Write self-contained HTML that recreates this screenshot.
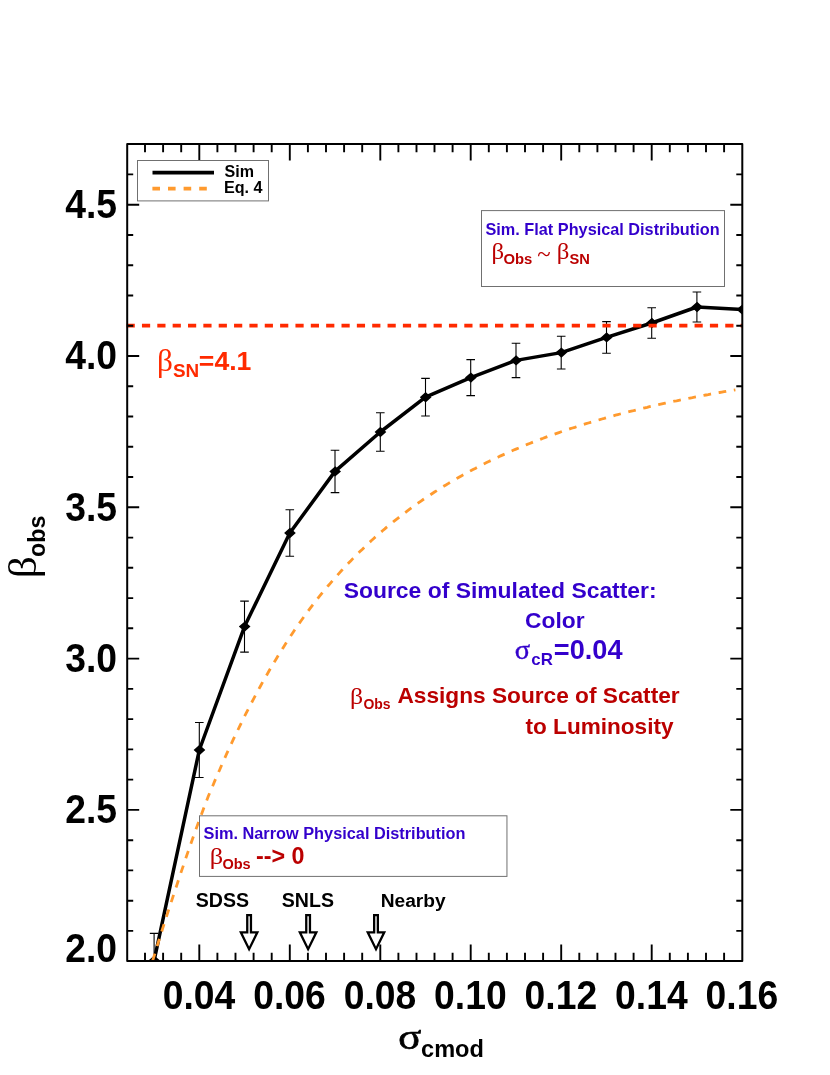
<!DOCTYPE html>
<html><head><meta charset="utf-8"><title>beta_obs vs sigma_cmod</title>
<style>html,body{margin:0;padding:0;background:#fff}svg{display:block;will-change:transform}text{font-family:"Liberation Sans",sans-serif;font-weight:bold}.g{font-family:"Liberation Serif",serif;font-weight:normal}</style></head><body>
<svg width="830" height="1075" viewBox="0 0 830 1075">
<rect x="0" y="0" width="830" height="1075" fill="#fff"/>
<defs><clipPath id="cp"><rect x="127.2" y="144.1" width="615.1" height="816.9"/></clipPath></defs>
<g clip-path="url(#cp)">
<polyline points="154.1,960.6 199.3,750.0 244.5,626.6 289.8,533.0 335.0,471.4 380.3,432.0 425.5,397.2 470.7,377.6 516.0,360.4 561.2,352.6 606.5,337.4 651.7,323.0 696.9,307.0 742.2,309.6" fill="none" stroke="#000" stroke-width="3.5" stroke-linejoin="round"/>
<path d="M154.1 933.4V987.8M149.8 933.4H158.4M149.8 987.8H158.4M199.3 722.5V777.5M195.0 722.5H203.6M195.0 777.5H203.6M244.5 601.1V652.1M240.2 601.1H248.8M240.2 652.1H248.8M289.8 509.8V556.2M285.5 509.8H294.1M285.5 556.2H294.1M335.0 450.2V492.6M330.7 450.2H339.3M330.7 492.6H339.3M380.3 412.7V451.3M376.0 412.7H384.6M376.0 451.3H384.6M425.5 378.4V416.0M421.2 378.4H429.8M421.2 416.0H429.8M470.7 359.6V395.6M466.4 359.6H475.0M466.4 395.6H475.0M516.0 343.2V377.6M511.7 343.2H520.3M511.7 377.6H520.3M561.2 336.2V369.0M556.9 336.2H565.5M556.9 369.0H565.5M606.5 321.6V353.2M602.2 321.6H610.8M602.2 353.2H610.8M651.7 307.7V338.3M647.4 307.7H656.0M647.4 338.3H656.0M696.9 292.0V322.0M692.6 292.0H701.2M692.6 322.0H701.2" stroke="#000" stroke-width="1.1" fill="none"/>
<path d="M148.4 960.6L154.2 955.4L160.1 960.6L154.2 965.8ZM193.6 750.0L199.5 744.8L205.3 750.0L199.5 755.2ZM238.8 626.6L244.7 621.4L250.5 626.6L244.7 631.8ZM284.1 533.0L289.9 527.8L295.8 533.0L289.9 538.2ZM329.3 471.4L335.2 466.2L341.0 471.4L335.2 476.6ZM374.6 432.0L380.4 426.8L386.3 432.0L380.4 437.2ZM419.8 397.2L425.6 392.0L431.5 397.2L425.6 402.4ZM465.0 377.6L470.9 372.4L476.7 377.6L470.9 382.8ZM510.3 360.4L516.1 355.2L522.0 360.4L516.1 365.6ZM555.5 352.6L561.4 347.4L567.2 352.6L561.4 357.8ZM600.8 337.4L606.6 332.2L612.5 337.4L606.6 342.6ZM646.0 323.0L651.9 317.8L657.7 323.0L651.9 328.2ZM691.2 307.0L697.1 301.8L702.9 307.0L697.1 312.2ZM736.5 309.6L742.3 304.4L748.2 309.6L742.3 314.8Z" fill="#000"/>
<polyline points="147.3,978.3 149.5,970.8 151.8,963.4 154.1,956.1 156.3,948.8 158.6,941.5 160.8,934.3 163.1,927.1 165.4,920.0 167.6,913.0 169.9,906.0 172.2,899.1 174.4,892.2 176.7,885.5 178.9,878.7 181.2,871.9 183.5,865.2 185.7,858.5 188.0,851.9 190.3,845.4 192.5,839.0 194.8,832.6 197.0,826.4 199.3,820.2 201.6,814.0 203.8,808.0 206.1,802.0 208.3,796.3 210.6,790.9 212.9,785.5 215.1,780.1 217.4,774.9 219.7,769.7 221.9,764.5 224.2,759.4 226.4,754.4 228.7,749.4 231.0,744.5 233.2,739.7 235.5,734.9 237.8,730.2 240.0,725.6 242.3,721.0 244.5,716.4 246.8,711.9 249.1,707.5 251.3,703.2 253.6,698.9 255.9,694.6 258.1,690.4 260.4,686.3 262.6,682.2 264.9,678.2 267.2,674.2 269.4,670.3 271.7,666.4 273.9,662.6 276.2,658.9 278.5,655.1 280.7,651.5 283.0,647.9 285.3,644.3 287.5,640.8 289.8,637.3 292.0,633.9 294.3,630.5 296.6,627.2 298.8,623.9 301.1,620.7 303.4,617.5 305.6,614.4 307.9,611.3 310.1,608.3 312.4,605.3 314.7,602.4 316.9,599.5 319.2,596.7 321.4,593.9 323.7,591.1 326.0,588.4 328.2,585.7 330.5,583.1 332.8,580.4 335.0,577.9 337.3,575.3 339.5,572.8 341.8,570.3 344.1,567.9 346.3,565.4 348.6,563.0 350.9,560.7 353.1,558.4 355.4,556.1 357.6,553.8 359.9,551.6 362.2,549.4 364.4,547.2 366.7,545.0 369.0,542.9 371.2,540.8 373.5,538.7 375.7,536.7 378.0,534.7 380.3,532.7 382.5,530.8 384.8,528.9 387.0,526.9 389.3,525.1 391.6,523.2 393.8,521.4 396.1,519.6 398.4,517.8 400.6,516.0 402.9,514.3 405.1,512.6 407.4,510.9 409.7,509.2 411.9,507.5 414.2,505.9 416.5,504.3 418.7,502.7 421.0,501.1 423.2,499.5 425.5,498.0 427.8,496.5 430.0,495.0 432.3,493.5 434.5,492.0 436.8,490.6 439.1,489.1 441.3,487.7 443.6,486.3 445.9,485.0 448.1,483.6 450.4,482.2 452.6,480.9 454.9,479.6 457.2,478.3 459.4,477.0 461.7,475.7 464.0,474.5 466.2,473.2 468.5,472.0 470.7,470.8 473.0,469.6 475.3,468.4 477.5,467.2 479.8,466.0 482.0,464.9 484.3,463.7 486.6,462.6 488.8,461.5 491.1,460.4 493.4,459.3 495.6,458.2 497.9,457.2 500.1,456.1 502.4,455.1 504.7,454.1 506.9,453.1 509.2,452.1 511.5,451.1 513.7,450.1 516.0,449.1 518.2,448.2 520.5,447.2 522.8,446.3 525.0,445.3 527.3,444.4 529.6,443.5 531.8,442.6 534.1,441.7 536.3,440.9 538.6,440.0 540.9,439.1 543.1,438.3 545.4,437.4 547.6,436.6 549.9,435.8 552.2,435.0 554.4,434.2 556.7,433.4 559.0,432.6 561.2,431.8 563.5,431.0 565.7,430.2 568.0,429.5 570.3,428.7 572.5,428.0 574.8,427.3 577.1,426.5 579.3,425.8 581.6,425.1 583.8,424.4 586.1,423.7 588.4,423.0 590.6,422.3 592.9,421.7 595.1,421.0 597.4,420.3 599.7,419.7 601.9,419.0 604.2,418.4 606.5,417.7 608.7,417.1 611.0,416.5 613.2,415.9 615.5,415.2 617.8,414.6 620.0,414.0 622.3,413.4 624.6,412.9 626.8,412.3 629.1,411.7 631.3,411.1 633.6,410.6 635.9,410.0 638.1,409.4 640.4,408.9 642.7,408.3 644.9,407.8 647.2,407.3 649.4,406.7 651.7,406.2 654.0,405.7 656.2,405.2 658.5,404.7 660.7,404.2 663.0,403.7 665.3,403.2 667.5,402.7 669.8,402.2 672.1,401.7 674.3,401.2 676.6,400.8 678.8,400.3 681.1,399.8 683.4,399.4 685.6,398.9 687.9,398.5 690.2,398.0 692.4,397.6 694.7,397.1 696.9,396.7 699.2,396.2 701.5,395.8 703.7,395.4 706.0,395.0 708.2,394.6 710.5,394.1 712.8,393.7 715.0,393.3 717.3,392.9 719.6,392.5 721.8,392.1 724.1,391.7 726.3,391.3 728.6,391.0 730.9,390.6 733.1,390.2 735.4,389.8" fill="none" stroke="#ff9a2e" stroke-width="2.8" stroke-dasharray="7.7 7.7" stroke-dashoffset="12.6"/>
</g>
<line x1="126.6" y1="325.69" x2="742.3" y2="325.69" stroke="#ff2a00" stroke-width="3.7" stroke-dasharray="8.2 7.15"/>
<path d="M145.0 961.0V952.8M145.0 144.1V152.3M163.1 961.0V952.8M163.1 144.1V152.3M181.2 961.0V952.8M181.2 144.1V152.3M199.3 961.0V944.6M199.3 144.1V160.5M217.4 961.0V952.8M217.4 144.1V152.3M235.5 961.0V952.8M235.5 144.1V152.3M253.6 961.0V952.8M253.6 144.1V152.3M271.7 961.0V952.8M271.7 144.1V152.3M289.8 961.0V944.6M289.8 144.1V160.5M307.9 961.0V952.8M307.9 144.1V152.3M326.0 961.0V952.8M326.0 144.1V152.3M344.1 961.0V952.8M344.1 144.1V152.3M362.2 961.0V952.8M362.2 144.1V152.3M380.3 961.0V944.6M380.3 144.1V160.5M398.4 961.0V952.8M398.4 144.1V152.3M416.5 961.0V952.8M416.5 144.1V152.3M434.5 961.0V952.8M434.5 144.1V152.3M452.6 961.0V952.8M452.6 144.1V152.3M470.7 961.0V944.6M470.7 144.1V160.5M488.8 961.0V952.8M488.8 144.1V152.3M506.9 961.0V952.8M506.9 144.1V152.3M525.0 961.0V952.8M525.0 144.1V152.3M543.1 961.0V952.8M543.1 144.1V152.3M561.2 961.0V944.6M561.2 144.1V160.5M579.3 961.0V952.8M579.3 144.1V152.3M597.4 961.0V952.8M597.4 144.1V152.3M615.5 961.0V952.8M615.5 144.1V152.3M633.6 961.0V952.8M633.6 144.1V152.3M651.7 961.0V944.6M651.7 144.1V160.5M669.8 961.0V952.8M669.8 144.1V152.3M687.9 961.0V952.8M687.9 144.1V152.3M706.0 961.0V952.8M706.0 144.1V152.3M724.1 961.0V952.8M724.1 144.1V152.3M127.2 930.9H133.2M742.3 930.9H736.3M127.2 900.7H133.2M742.3 900.7H736.3M127.2 870.4H133.2M742.3 870.4H736.3M127.2 840.2H133.2M742.3 840.2H736.3M127.2 809.9H139.2M742.3 809.9H730.3M127.2 779.6H133.2M742.3 779.6H736.3M127.2 749.4H133.2M742.3 749.4H736.3M127.2 719.1H133.2M742.3 719.1H736.3M127.2 688.9H133.2M742.3 688.9H736.3M127.2 658.6H139.2M742.3 658.6H730.3M127.2 628.3H133.2M742.3 628.3H736.3M127.2 598.1H133.2M742.3 598.1H736.3M127.2 567.8H133.2M742.3 567.8H736.3M127.2 537.6H133.2M742.3 537.6H736.3M127.2 507.3H139.2M742.3 507.3H730.3M127.2 477.0H133.2M742.3 477.0H736.3M127.2 446.8H133.2M742.3 446.8H736.3M127.2 416.5H133.2M742.3 416.5H736.3M127.2 386.3H133.2M742.3 386.3H736.3M127.2 356.0H139.2M742.3 356.0H730.3M127.2 325.7H133.2M742.3 325.7H736.3M127.2 295.5H133.2M742.3 295.5H736.3M127.2 265.2H133.2M742.3 265.2H736.3M127.2 235.0H133.2M742.3 235.0H736.3M127.2 204.7H139.2M742.3 204.7H730.3M127.2 174.4H133.2M742.3 174.4H736.3" stroke="#000" stroke-width="1.9" fill="none"/>
<rect x="127.2" y="144.1" width="615.1" height="816.9" fill="none" stroke="#000" stroke-width="2" stroke-linejoin="round"/>
<text transform="translate(117.0,961.7) scale(1,1.075)" font-size="37.3" text-anchor="end">2.0</text>
<text transform="translate(117.0,823.2) scale(1,1.075)" font-size="37.3" text-anchor="end">2.5</text>
<text transform="translate(117.0,671.9) scale(1,1.075)" font-size="37.3" text-anchor="end">3.0</text>
<text transform="translate(117.0,520.6) scale(1,1.075)" font-size="37.3" text-anchor="end">3.5</text>
<text transform="translate(117.0,369.3) scale(1,1.075)" font-size="37.3" text-anchor="end">4.0</text>
<text transform="translate(117.0,218.0) scale(1,1.075)" font-size="37.3" text-anchor="end">4.5</text>
<text transform="translate(199.0,1008.5) scale(1,1.075)" font-size="37.3" text-anchor="middle">0.04</text>
<text transform="translate(289.5,1008.5) scale(1,1.075)" font-size="37.3" text-anchor="middle">0.06</text>
<text transform="translate(380.0,1008.5) scale(1,1.075)" font-size="37.3" text-anchor="middle">0.08</text>
<text transform="translate(470.4,1008.5) scale(1,1.075)" font-size="37.3" text-anchor="middle">0.10</text>
<text transform="translate(560.9,1008.5) scale(1,1.075)" font-size="37.3" text-anchor="middle">0.12</text>
<text transform="translate(651.4,1008.5) scale(1,1.075)" font-size="37.3" text-anchor="middle">0.14</text>
<text transform="translate(741.9,1008.5) scale(1,1.075)" font-size="37.3" text-anchor="middle">0.16</text>
<text class="g" transform="translate(398.30,1048.80) scale(1.182,1)" font-size="36.10" stroke="#000" stroke-width="0.70">σ</text>
<text x="421.06" y="1057.00" font-size="23.59">cmod</text>
<g transform="translate(0,0) rotate(-90)">
<text class="g" transform="translate(-578.33,35.62) scale(1.102,1)" font-size="39.46">β</text>
<text x="-556.93" y="45.00" font-size="23.27">obs</text>
</g>
<rect x="137.5" y="160.5" width="131" height="40.4" fill="#fff" stroke="#707070" stroke-width="1"/>
<line x1="152.5" y1="172.7" x2="214" y2="172.7" stroke="#000" stroke-width="3.8"/>
<line x1="152.4" y1="188.6" x2="214" y2="188.6" stroke="#ff9a2e" stroke-width="3.6" stroke-dasharray="7.6 8"/>
<text x="224.52" y="176.50" font-size="16.07">Sim</text>
<text x="223.91" y="193.10" font-size="16.16">Eq. 4</text>
<rect x="481.5" y="210.6" width="243" height="75.9" fill="#fff" stroke="#707070" stroke-width="1"/>
<text x="485.51" y="235.00" font-size="16.27" fill="#3300cc">Sim. Flat Physical Distribution</text>
<text class="g" transform="translate(491.39,258.90) scale(1.036,1)" font-size="23.98" fill="#bb0000">β</text>
<text x="503.41" y="263.60" font-size="14.82" fill="#bb0000">Obs</text>
<text class="g" transform="translate(537.32,261.70) scale(1.011,1)" font-size="24.48" fill="#bb0000">~</text>
<text class="g" transform="translate(556.79,258.90) scale(1.036,1)" font-size="23.98" fill="#bb0000">β</text>
<text x="569.56" y="263.60" font-size="14.70" fill="#bb0000">SN</text>
<text class="g" transform="translate(156.97,371.38) scale(1.004,1)" font-size="31.17" fill="#ff2a00">β</text>
<text x="173.03" y="377.00" font-size="18.88" fill="#ff2a00">SN</text>
<text x="198.87" y="370.00" font-size="26.60" fill="#ff2a00">=4.1</text>
<text x="343.71" y="598.00" font-size="22.90" fill="#3300cc">Source of Simulated Scatter:</text>
<text x="525.09" y="627.80" font-size="22.80" fill="#3300cc">Color</text>
<text class="g" transform="translate(514.83,658.60) scale(1.067,1)" font-size="26.73" fill="#3300cc" stroke="#3300cc" stroke-width="0.40">σ</text>
<text x="531.33" y="664.50" font-size="16.87" fill="#3300cc">cR</text>
<text x="553.85" y="658.70" font-size="27.15" fill="#3300cc">=0.04</text>
<text class="g" transform="translate(349.92,703.68) scale(1.162,1)" font-size="22.23" fill="#bb0000">β</text>
<text x="363.44" y="709.00" font-size="13.96" fill="#bb0000">Obs</text>
<text x="397.43" y="703.40" font-size="22.68" fill="#bb0000">Assigns Source of Scatter</text>
<text x="525.52" y="733.90" font-size="22.59" fill="#bb0000">to Luminosity</text>
<rect x="199.5" y="815.8" width="307.45" height="60.6" fill="#fff" stroke="#707070" stroke-width="1"/>
<text x="203.51" y="839.00" font-size="16.32" fill="#3300cc">Sim. Narrow Physical Distribution</text>
<text class="g" transform="translate(209.69,864.30) scale(1.098,1)" font-size="23.98" fill="#bb0000">β</text>
<text x="222.42" y="868.60" font-size="14.50" fill="#bb0000">Obs</text>
<text x="256.07" y="864.00" font-size="23.27" fill="#bb0000">--&gt; 0</text>
<text x="195.81" y="907.00" font-size="19.60">SDSS</text>
<text x="281.81" y="907.00" font-size="19.56">SNLS</text>
<text x="380.71" y="907.00" font-size="19.17">Nearby</text>
<path d="M240.85 932.3H247.25V915.2H250.95V932.3H257.35L249.10 949.2Z" fill="#fff" stroke="#000" stroke-width="2.3" stroke-linejoin="miter"/>
<path d="M299.85 932.3H306.25V915.2H309.95V932.3H316.35L308.10 949.2Z" fill="#fff" stroke="#000" stroke-width="2.3" stroke-linejoin="miter"/>
<path d="M367.75 932.3H374.15V915.2H377.85V932.3H384.25L376.00 949.2Z" fill="#fff" stroke="#000" stroke-width="2.3" stroke-linejoin="miter"/>
</svg></body></html>
